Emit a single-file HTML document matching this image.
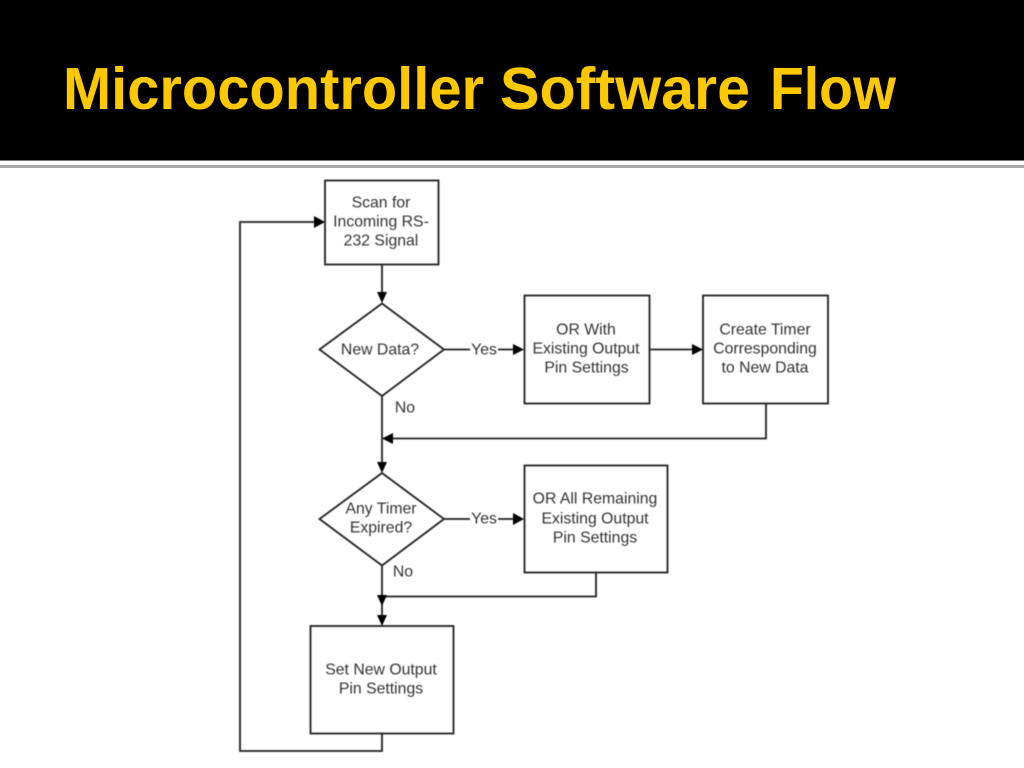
<!DOCTYPE html>
<html><head><meta charset="utf-8"><style>
html,body{margin:0;padding:0;background:#fff;width:1024px;height:768px;overflow:hidden}
svg{display:block}
</style></head><body>
<svg width="1024" height="768" viewBox="0 0 1024 768" xmlns="http://www.w3.org/2000/svg">
<defs>
<filter id="b" x="-5%" y="-5%" width="110%" height="110%"><feGaussianBlur stdDeviation="0.45"/></filter>
</defs>
<rect width="1024" height="768" fill="#fff"/>
<rect width="1024" height="160" fill="#000"/>
<rect y="160" width="1024" height="1" fill="#777"/>
<rect y="165" width="1024" height="3" fill="#a8a8a8"/>
<g font-family="'Liberation Sans',sans-serif" font-size="59" font-weight="bold" fill="#fcc800">
<text x="63" y="109" textLength="421" lengthAdjust="spacingAndGlyphs">Microcontroller</text>
<text x="500" y="109" textLength="250" lengthAdjust="spacingAndGlyphs">Software</text>
<text x="770" y="109" textLength="126" lengthAdjust="spacingAndGlyphs">Flow</text>
</g>
<g filter="url(#b)">
<g fill="none" stroke="#222" stroke-width="1.8">
<rect x="325" y="180.500" width="113.500" height="84"/>
<rect x="524.500" y="295.500" width="125" height="108"/>
<rect x="703" y="295.500" width="125" height="108"/>
<rect x="524.500" y="465.500" width="143" height="107"/>
<rect x="310.500" y="626" width="143" height="107.500"/>
<polygon points="382,303.500 444,349.500 382,396 319.500,349.500"/>
<polygon points="382,473 444,519 382,565.500 319.500,519"/>
<path d="M382 264.500V293M444 349.500H470M498 349.500H514M649.500 349.500H693M766 403.500V438.500H392M382 396V463M444 519H470M498 519H514M596 572.500V596.500H382M382 565.500V616M382 733.500V751H240V222H315"/>
</g>
<g fill="#000">
<polygon points="314,216 325,222 314,228"/>
<polygon points="377,292 387,292 382,303"/>
<polygon points="513,344 524,349.500 513,355"/>
<polygon points="692,344 703,349.500 692,355"/>
<polygon points="393,433 382,438.500 393,444"/>
<polygon points="377,462 387,462 382,473"/>
<polygon points="513,513 524,519 513,525"/>
<polygon points="377,595 387,595 382,606"/>
<polygon points="377,615 387,615 382,626"/>
</g>
<g font-family="'Liberation Sans',sans-serif" font-size="15.8" fill="#333" text-anchor="middle" transform="translate(0,0.5)">
<text x="381" y="207">Scan for</text>
<text x="381" y="226">Incoming RS-</text>
<text x="381" y="245">232 Signal</text>
<text x="380" y="354">New Data?</text>
<text x="484" y="354">Yes</text>
<text x="405" y="412">No</text>
<text x="586" y="334">OR With</text>
<text x="586" y="353">Existing Output</text>
<text x="586.500" y="372">Pin Settings</text>
<text x="765" y="334">Create Timer</text>
<text x="765" y="353">Corresponding</text>
<text x="765" y="372">to New Data</text>
<text x="381" y="513">Any Timer</text>
<text x="381" y="532">Expired?</text>
<text x="484" y="523">Yes</text>
<text x="403" y="576">No</text>
<text x="595" y="503">OR All Remaining</text>
<text x="595" y="523">Existing Output</text>
<text x="595" y="542">Pin Settings</text>
<text x="381" y="674">Set New Output</text>
<text x="381" y="693">Pin Settings</text>
</g>
</g>
</svg>
</body></html>
